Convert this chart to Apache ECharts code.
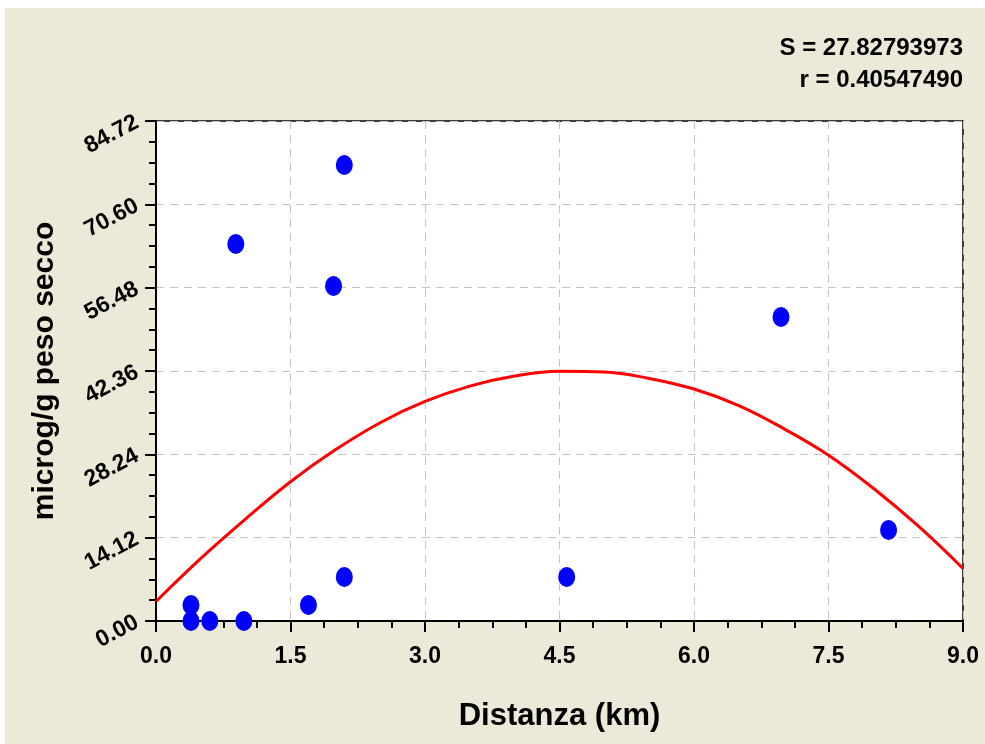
<!DOCTYPE html>
<html>
<head>
<meta charset="utf-8">
<script src="https://cdn.jsdelivr.net/npm/echarts@6/dist/echarts.min.js"></script>
<style>
  html, body { margin: 0; padding: 0; background: #fff; }
  #main { position: absolute; left: 5px; top: 8px; width: 980px; height: 736px; }
</style>
</head>
<body>
<div id="main"></div>
<script>
// misurazioni (distanza km, microg/g peso secco)
var distanze = [0.39, 0.39, 0.60, 0.98, 1.70, 2.10, 0.89, 1.98, 2.10, 4.58, 6.97, 8.17];
var valori   = [2.71, 0.00, 0.00, 0.00, 2.71, 7.46, 63.88, 56.76, 77.26, 7.46, 51.51, 15.42];

// curva di regressione
var curvaX = [0, 0.5, 1.0, 1.5, 2.0, 2.5, 3.0, 3.5, 4.0, 4.5, 5.0, 5.5, 6.0, 6.5, 7.0, 7.5, 8.0, 8.5, 9.0];
var curvaY = [3.3, 10.6, 17.3, 23.6, 29.0, 33.6, 37.2, 39.8, 41.5, 42.3, 42.2, 41.1, 39.3, 36.5, 32.6, 28.1, 22.5, 16.1, 8.9];

var statS = 'S = 27.82793973',
    statR = 'r = 0.40547490';

var yMin = 0, yMax = 84.72, yStep = 14.12;
var xMin = 0, xMax = 9, xStep = 1.5;

var font = '"Liberation Sans", Arial, sans-serif';

var punti = distanze.map(function (d, i) { return [d, valori[i]]; });
var curva = curvaX.map(function (d, i) { return [d, curvaY[i]]; });

var myChart = echarts.init(document.getElementById('main'));

var option = {
  animation: false,
  backgroundColor: '#ECE9D8',
  textStyle: { fontFamily: font },
  graphic: [
    {
      type: 'text', right: 22, top: 28,
      style: { text: statS, font: 'bold 24px ' + font, fill: '#000', textAlign: 'right' }
    },
    {
      type: 'text', right: 22, top: 60,
      style: { text: statR, font: 'bold 24px ' + font, fill: '#000', textAlign: 'right' }
    }
  ],
  grid: {
    left: 151, top: 113, width: 807, height: 500,
    show: true, backgroundColor: '#fff', borderColor: '#000', borderWidth: 1.5
  },
  xAxis: {
    type: 'value', min: xMin, max: xMax, interval: xStep,
    name: 'Distanza (km)', nameLocation: 'middle', nameGap: 80,
    nameTextStyle: { fontSize: 31, fontWeight: 'bold', color: '#000', fontFamily: font },
    axisLine: { onZero: false, lineStyle: { color: '#000', width: 2 } },
    axisTick: { show: true, length: 11, lineStyle: { color: '#000', width: 2 } },
    minorTick: { show: true, splitNumber: 4, length: 7, lineStyle: { color: '#000', width: 2 } },
    axisLabel: {
      margin: 24, fontSize: 23, fontWeight: 'bold', color: '#000', fontFamily: font,
      formatter: function (v) { return v.toFixed(1); }
    },
    splitLine: { show: true, lineStyle: { color: '#C8C4BA', type: [8, 6], width: 1 } }
  },
  yAxis: {
    type: 'value', min: yMin, max: yMax, interval: yStep,
    name: 'microg/g peso secco', nameLocation: 'middle', nameGap: 96, nameRotate: 90,
    nameTextStyle: { fontSize: 30, fontWeight: 'bold', color: '#000', fontFamily: font },
    axisLine: { show: true, onZero: false, lineStyle: { color: '#000', width: 2 } },
    axisTick: { show: true, length: 11, lineStyle: { color: '#000', width: 2 } },
    minorTick: { show: true, splitNumber: 4, length: 7, lineStyle: { color: '#000', width: 2 } },
    axisLabel: {
      margin: 19, rotate: 28, fontSize: 23, fontWeight: 'bold', color: '#000', fontFamily: font,
      formatter: function (v) { return v.toFixed(2); }
    },
    splitLine: { show: true, lineStyle: { color: '#C8C4BA', type: [8, 6], width: 1 } }
  },
  series: [
    {
      name: 'Regressione',
      type: 'line',
      smooth: 0.4,
      showSymbol: false,
      data: curva,
      lineStyle: { color: '#FF0000', width: 3 },
      z: 2
    },
    {
      name: 'Misure',
      type: 'scatter',
      data: punti,
      symbol: 'circle',
      symbolSize: [17, 20],
      itemStyle: { color: '#0000FF', opacity: 1 },
      clip: false,
      z: 3
    }
  ]
};

myChart.setOption(option);
</script>
</body>
</html>
